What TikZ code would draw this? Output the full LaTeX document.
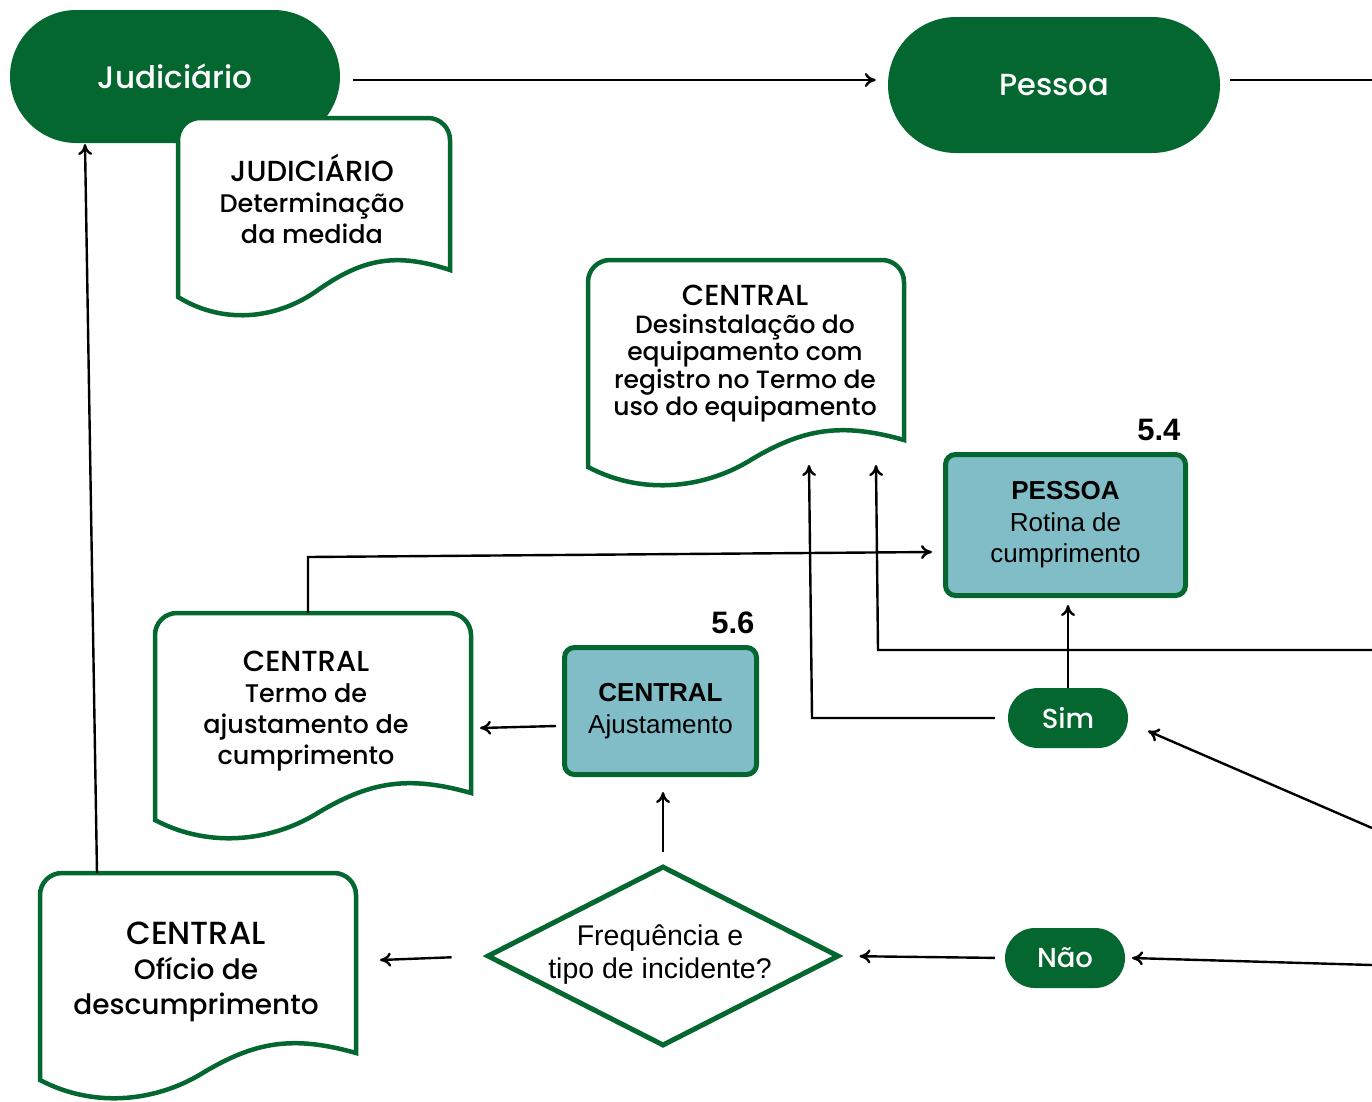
\documentclass[tikz,border=0pt]{standalone}
\usepackage{fontspec}
\IfFontExistsTF{Poppins Medium}{\setmainfont{Poppins Medium}}{\setmainfont{Poppins}}
\newfontfamily\robo{Liberation Sans}
\usetikzlibrary{shapes.geometric, shapes.misc, arrows.meta}
\definecolor{dkgreen}{RGB}{4,103,48}
\definecolor{tealbox}{RGB}{128,189,199}

\begin{document}
\begin{tikzpicture}[
    x=1pt, y=-1pt,
    pill/.style={rounded rectangle, fill=dkgreen, text=white, inner sep=0pt},
    task/.style={rectangle, rounded corners=10pt, draw=dkgreen, line width=5pt, fill=tealbox, align=center, inner sep=0pt, font=\robo\fontsize{26}{31.5}\selectfont},
    tasknum/.style={anchor=base east, font=\robo\bfseries\fontsize{31}{34}\selectfont},
    doc/.style={draw=dkgreen, line width=4.5pt, fill=white},
    doctext/.style={align=center, font=\fontsize{25.5}{31}\selectfont},
    decision/.style={diamond, draw=dkgreen, line width=5pt, inner sep=0pt},
    arrow/.style={-{To[length=11pt,width=14pt]}, line width=2.4pt},
    link/.style={line width=2.4pt}
]
\useasboundingbox (0,0) rectangle (1372,1101);

% Terminals
\node[pill, minimum width=330pt, minimum height=133pt, font=\fontsize{31}{34}\selectfont] (judic) at (175,76.5) {Judiciário};
\node[pill, minimum width=332pt, minimum height=136pt, font=\fontsize{30.5}{34}\selectfont] (pessoa) at (1054,85) {Pessoa};

% Document: JUDICIARIO
\draw[doc] (178,297) [rounded corners=22pt] -- (178,118) -- (450,118) [sharp corners] -- (450,270)
    .. controls (395.6,252) and (363,259) .. (319.4,289)
    .. controls (281.4,317) and (227,327) .. (178,297) -- cycle;
\node[doctext] (jdoc) at (312,199) {{\fontsize{29}{31}\selectfont JUDICIÁRIO}\\Determinação\\da medida};

% Document: CENTRAL desinstalacao
\draw[doc] (588,467) [rounded corners=22pt] -- (588,260) -- (904,260) [sharp corners] -- (904,440)
    .. controls (840.8,422) and (802.9,429) .. (752.3,459)
    .. controls (708.1,487) and (644.9,497) .. (588,467) -- cycle;
\node[doctext, font=\fontsize{25}{27.5}\selectfont] (desdoc) at (745,354) {{\fontsize{29}{30}\selectfont CENTRAL}\\Desinstalação do\\equipamento com\\registro no Termo de\\uso do equipamento};

% Document: CENTRAL termo de ajustamento
\draw[doc] (155,820) [rounded corners=22pt] -- (155,613) -- (471,613) [sharp corners] -- (471,793)
    .. controls (407.8,775) and (369.9,782) .. (319.3,812)
    .. controls (275.1,840) and (211.9,850) .. (155,820) -- cycle;
\node[doctext] (termdoc) at (306,711) {{\fontsize{29}{31}\selectfont CENTRAL}\\Termo de\\ajustamento de\\cumprimento};

% Document: CENTRAL oficio
\draw[doc] (40,1080) [rounded corners=22pt] -- (40,873) -- (356,873) [sharp corners] -- (356,1053)
    .. controls (292.8,1035) and (254.9,1042) .. (204.3,1072)
    .. controls (160.1,1100) and (96.9,1110) .. (40,1080) -- cycle;
\node[doctext, font=\fontsize{28}{35}\selectfont] (ofdoc) at (196,972) {{\fontsize{32}{35}\selectfont CENTRAL}\\Ofício de\\descumprimento};

% Tasks
\node[task, minimum width=240pt, minimum height=141pt] (psbox) at (1065.5,525) {\textbf{PESSOA}\\Rotina de\\cumprimento};
\node[tasknum] (n54) at (1184,440) {5.4};
\node[task, minimum width=192pt, minimum height=127pt] (ajbox) at (660.5,711) {\textbf{CENTRAL}\\Ajustamento};
\node[tasknum] (n56) at (758,633) {5.6};

% Decision and answers
\node[decision, minimum width=352pt, minimum height=180pt] (dec) at (663,956) {};
\node[align=center, font=\robo\fontsize{28.5}{33}\selectfont] (dectext) at (660,955) {Frequência e\\tipo de incidente?};
\node[pill, minimum width=120pt, minimum height=60pt, font=\fontsize{27.5}{30}\selectfont] (sim) at (1068,718) {Sim};
\node[pill, minimum width=120pt, minimum height=60pt, font=\fontsize{27.5}{30}\selectfont] (nao) at (1065,958) {Não};

% Connector points
\coordinate (toprow) at (0,80);
\coordinate (exitA) at (1372,80);
\coordinate (ofTop) at (97,873);
\coordinate (jdIn) at (85,144);
\coordinate (tmTop) at (308,613);
\coordinate (tmBend) at (308,557);
\coordinate (psIn) at (932,552);
\coordinate (simBend) at (812,718);
\coordinate (dsIn1) at (809,465);
\coordinate (inA) at (1372,650);
\coordinate (inABend) at (878,650);
\coordinate (dsIn2) at (876,465);
\coordinate (inB) at (1372,828);
\coordinate (simIn) at (1148,731);
\coordinate (inC) at (1372,965);
\coordinate (naoIn) at (1132,958);
\coordinate (ofIn) at (380,960);
\coordinate (ajOut) at (556,726);
\coordinate (tmIn) at (480,728);

% Connectors
\draw[arrow, shorten <=13pt, shorten >=12pt] (judic.east |- toprow) -- (pessoa.west |- toprow);
\draw[link, shorten <=10pt] (pessoa.east |- toprow) -- (exitA);
\draw[arrow] (ofTop) -- (jdIn);
\draw[arrow] (tmTop) -- (tmBend) -- (psIn);
\draw[arrow, shorten >=7pt] (sim.north) -- (sim.north |- psbox.south);
\draw[arrow, shorten <=13pt] (sim.west) -- (simBend) -- (dsIn1);
\draw[arrow] (inA) -- (inABend) -- (dsIn2);
\draw[arrow] (inB) -- (simIn);
\draw[arrow] (inC) -- (naoIn);
\draw[arrow, shorten <=10pt, shorten >=18pt] (nao.west) -- (dec.east);
\draw[arrow, shorten <=12pt, shorten >=15pt] (dec.north) -- (dec.north |- ajbox.south);
\draw[arrow, shorten <=33pt] (dec.west) -- (ofIn);
\draw[arrow] (ajOut) -- (tmIn);

\end{tikzpicture}
\end{document}
